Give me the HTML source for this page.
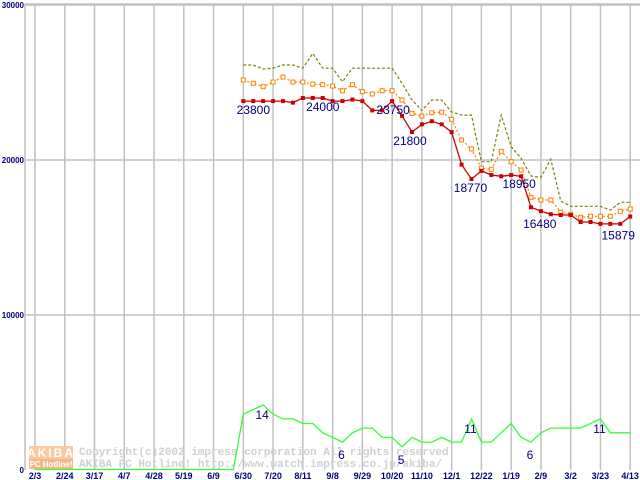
<!DOCTYPE html>
<html><head><meta charset="utf-8"><style>
html,body{margin:0;padding:0;background:#fff;width:640px;height:480px;overflow:hidden}
svg{display:block;font-family:"Liberation Sans",sans-serif}
</style></head><body>
<svg id="chart" width="640" height="480" viewBox="0 0 640 480">
<g id="grid"></g>
<g id="wm">
<rect x="29" y="446" width="44" height="13" fill="#fbc9a0"/>
<text x="51" y="457" font-size="12" font-weight="bold" fill="#fff" text-anchor="middle" letter-spacing="2">AKIBA</text>
<rect x="29" y="459" width="44" height="10" fill="#f7b58a"/>
<text x="51" y="467" font-size="8" font-weight="bold" fill="#fff" text-anchor="middle">PC Hotline!</text>
<text x="79" y="455" font-size="11" font-weight="bold" fill="#d0d0d0" font-family="Liberation Mono,monospace">Copyright(c)2002 impress corporation All rights reserved.</text>
<text x="79" y="467" font-size="11" font-weight="bold" fill="#d0d0d0" font-family="Liberation Mono,monospace">AKIBA PC Hotline!  http://www.watch.impress.co.jp/akiba/</text>
</g>
<g id="series"></g>
<g id="labels"></g>
</svg>
<script>
const xLabels=["2/3","2/24","3/17","4/7","4/28","5/19","6/9","6/30","7/20","8/11","9/8","9/29","10/20","11/10","12/1","12/22","1/19","2/9","3/2","3/23","4/13"];
const yTicks=[0,10000,20000,30000];
const lead=21;
const redVals=[23800,23800,23800,23800,23800,23700,24000,24000,24000,23800,23800,23900,23800,23200,23200,23800,22850,21800,22300,22500,22300,21800,19700,18770,19300,19030,18950,19030,18950,16950,16700,16500,16450,16450,16000,16000,15880,15880,15880,16350];
const orangeVals=[25160,24950,24730,25030,25350,25030,25030,24900,24860,24770,24470,24860,24410,24260,24470,24470,23870,23010,22840,23050,23080,22630,21290,20710,19470,19400,20560,19890,19350,17590,17420,17420,16630,16500,16300,16370,16370,16370,16690,16840];
const oliveVals=[26130,26130,25870,25920,26130,26130,25920,26880,25920,25920,25050,25920,25920,25920,25920,25920,24950,23870,23200,23870,23870,23100,22900,22900,19890,19890,22900,20860,20110,18970,18880,20050,17350,17010,17010,17010,17010,16770,17270,17270];
const countVals=[12,13,14,12,11,11,10,10,8,7,6,8,9,9,7,7,5,7,6,6,7,6,6,11,6,6,8,10,7,6,8,9,9,9,9,10,11,8,8,8];
const priceLabelIdx=[0,7,15,17,23,27,32,39];
const priceLabelText=["23800","24000","23750","21800","18770","18950","16480","15879"];
const countLabelIdx=[2,10,16,23,29,36];
const countLabelText=["14","6","5","11","6","11"];
const priceLabelDx=[10,10,1,-2,-1,8,-21,-12];
const priceLabelDy=[13,13,13,13,13,13,13,23];

const NS="http://www.w3.org/2000/svg";
const X=i=>35+i*9.92;
const Y=v=>470-v*0.0155;
const YC=c=>Y(c*300);
function mk(tag,attrs,parent){const e=document.createElementNS(NS,tag);for(const k in attrs)e.setAttribute(k,attrs[k]);parent.appendChild(e);return e;}
const grid=document.getElementById('grid'),ser=document.getElementById('series'),lab=document.getElementById('labels');
let fr=mk('path',{d:'M25,470V4H640',fill:'none',stroke:'#c0c0c0','stroke-width':1.5},grid);


xLabels.forEach((t,k)=>{const x=X(k*3);
 const l=mk('line',{x1:x,x2:x,y1:4,y2:470,stroke:'#c0c0c0','stroke-width':1.5},grid);
 
 
 const tx=mk('text',{x:x,y:479,'font-size':9,'font-weight':'bold',fill:'#000080','text-anchor':'middle'},grid);tx.textContent=t;
 
 
});
yTicks.forEach(v=>{const y=Y(v);
 if(v>0){const l=mk('line',{x1:25,x2:640,y1:y,y2:y,stroke:'#c0c0c0','stroke-width':1.5},grid);
 
 }
 const tx=mk('text',{x:24,y:y+3,'font-size':8,'font-weight':'bold',fill:'#000080','text-anchor':'end'},grid);tx.textContent=String(v);
 
 
});
function pts(vals,f){return vals.map((v,i)=>X(i+lead).toFixed(1)+','+f(v).toFixed(1)).join(' ');}
const cz=[];for(let i=0;i<lead;i++)cz.push(0);
const allC=cz.concat(countVals);
let g=mk('polyline',{points:allC.map((c,i)=>X(i).toFixed(1)+','+(c===0&&i<lead?469.5:YC(c)).toFixed(1)).join(' '),fill:'none',stroke:'#33ff33','stroke-width':1.3},ser);


let o1=mk('polyline',{points:pts(oliveVals,Y),fill:'none',stroke:'#808000','stroke-width':1.2,'stroke-dasharray':'3,2'},ser);


let o2=mk('polyline',{points:pts(orangeVals,Y),fill:'none',stroke:'#ff8000','stroke-width':1.2,'stroke-dasharray':'2,2'},ser);


orangeVals.forEach((v,i)=>{const r=mk('rect',{x:X(i+lead)-2,y:Y(v)-2,width:4,height:4,fill:'#fff',stroke:'#ff8000','stroke-width':1},ser);
 
 });
let r1=mk('polyline',{points:pts(redVals,Y),fill:'none',stroke:'#cc0000','stroke-width':1.3},ser);


redVals.forEach((v,i)=>{const r=mk('rect',{x:X(i+lead)-2,y:Y(v)-2,width:4,height:4,fill:'#cc0000'},ser);
 
 });
priceLabelIdx.forEach((i,k)=>{const tx=mk('text',{x:X(i+lead)+priceLabelDx[k],y:Y(redVals[i])+priceLabelDy[k],'font-size':12,fill:'#000080','text-anchor':'middle'},lab);tx.textContent=priceLabelText[k];
 
 });
countLabelIdx.forEach((i,k)=>{const c=countVals[i];const tx=mk('text',{x:X(i+lead)-1,y:c>9?YC(c)+14:YC(c)+17,'font-size':12,fill:'#000080','text-anchor':'middle'},lab);tx.textContent=countLabelText[k];
 
 });
</script>
</body></html>
